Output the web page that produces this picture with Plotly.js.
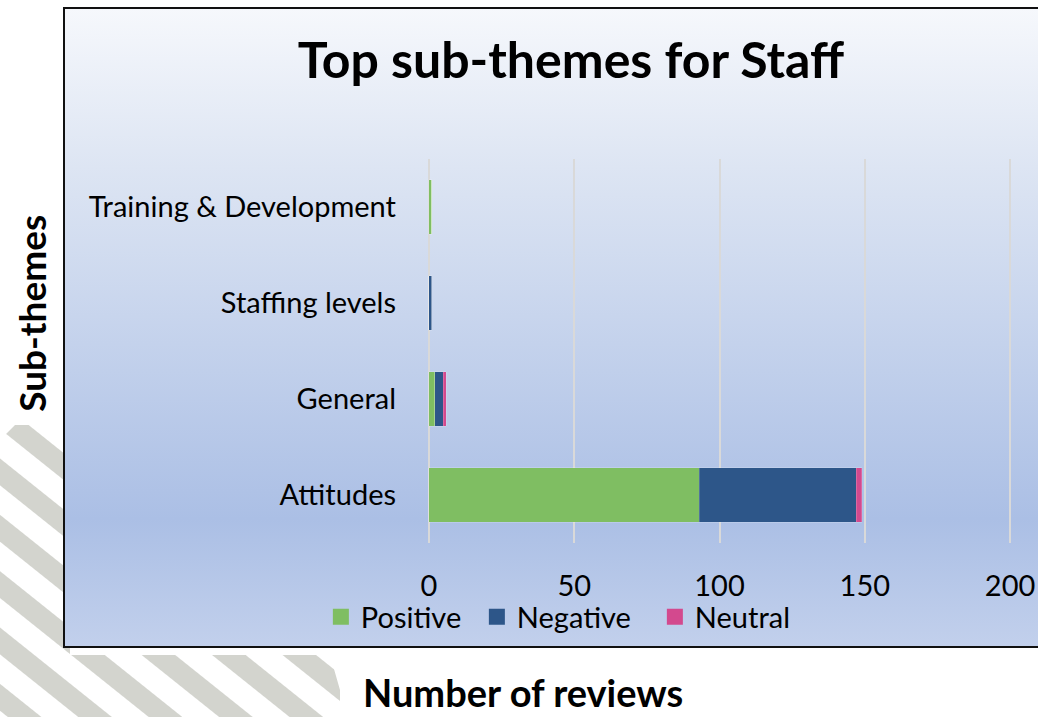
<!DOCTYPE html>
<html>
<head>
<meta charset="utf-8">
<script src="https://cdn.plot.ly/plotly-3.0.1.min.js"></script>
<style>
  html, body { margin: 0; padding: 0; background: #ffffff; }
  #wrap { position: relative; width: 1038px; height: 717px; overflow: hidden; }
  #bg { position: absolute; left: 0; top: 0; }
  #chart { position: absolute; left: 0; top: 0; width: 1038px; height: 717px; }
</style>
</head>
<body>
<div id="wrap">
  <svg id="bg" width="1038" height="717" xmlns="http://www.w3.org/2000/svg">
    <defs>
      <pattern id="stripes" width="44" height="44" patternUnits="userSpaceOnUse" patternTransform="rotate(38.66) translate(0,6)">
        <rect x="0" y="0" width="44" height="21" fill="#d3d4ce"></rect>
      </pattern>
      <clipPath id="stripeClip">
        <polygon points="0,440 15,425 70,425 70,655 330,655 340,690 340,717 0,717"></polygon>
      </clipPath>
      <linearGradient id="boxGrad" x1="0" y1="0" x2="0" y2="1">
        <stop offset="0" stop-color="#f6f8fc"></stop>
        <stop offset="0.25" stop-color="#dde5f3"></stop>
        <stop offset="0.8" stop-color="#abbfe5"></stop>
        <stop offset="1" stop-color="#c2d0ec"></stop>
      </linearGradient>
    </defs>
    <rect x="0" y="400" width="400" height="317" fill="url(#stripes)" clip-path="url(#stripeClip)"></rect>
    <rect x="64" y="8" width="1000" height="639" fill="url(#boxGrad)" stroke="#111111" stroke-width="2"></rect>
  </svg>
  <div id="chart"></div>
</div>
<script>
// Data (bottom to top on the chart)
var categories = ["Attitudes", "General", "Staffing levels", "Training & Development"];
var positive = [93, 2, 0, 1];
var negative = [54, 3, 1, 0];
var neutral  = [2, 1, 0, 0];
var tickValues = [0, 50, 100, 150, 200];
var seriesNames = ["Positive", "Negative", "Neutral"];
var seriesColors = ["#7fbe62", "#2d5689", "#d3498e"];

var FONT = "Lato, 'Noto Sans', sans-serif";
var seriesValues = [positive, negative, neutral];

var traces = seriesValues.map(function (vals, i) {
  return {
    type: "bar",
    orientation: "h",
    name: seriesNames[i],
    y: categories,
    x: vals,
    marker: { color: seriesColors[i], line: { color: "rgba(255,255,255,0.35)", width: 0.5 } },
    showlegend: false,
    hoverinfo: "x+y+name"
  };
});
// legend entries with larger square swatches
var legendWidths = [111, 133, 100];
seriesNames.forEach(function (n, i) {
  traces.push({
    type: "scatter",
    mode: "markers",
    name: n,
    x: [null],
    y: [null],
    marker: { symbol: "square", size: 18, color: seriesColors[i] },
    legendwidth: legendWidths[i],
    showlegend: true,
    hoverinfo: "skip"
  });
});

// x scale: 0 at 429px, 2.905 px per review
var PX0 = 429, PPU = 2.905, XMIN = -1, XMAX = 201;
var mL = PX0 + XMIN * PPU;
var mR = 1038 - (mL + (XMAX - XMIN) * PPU);
var plotW = (XMAX - XMIN) * PPU;

function px2paperX(px) { return (px - mL) / plotW; }
function px2paperY(py) { return (543 - py) / 384; }

var layout = {
  width: 1038,
  height: 717,
  margin: { l: mL, r: mR, t: 159, b: 174, pad: 0 },
  paper_bgcolor: "rgba(0,0,0,0)",
  plot_bgcolor: "rgba(0,0,0,0)",
  barmode: "stack",
  bargap: 0.43,
  font: { family: FONT, color: "#000000" },
  title: {
    text: "<b>Top sub-themes for Staff</b>",
    font: { family: FONT, size: 50, color: "#000000" },
    x: 571 / 1038,
    xanchor: "center",
    y: 1 - 60 / 717,
    yanchor: "middle",
    xref: "container",
    yref: "container"
  },
  xaxis: {
    range: [XMIN, XMAX],
    tickvals: tickValues,
    ticktext: tickValues.map(String),
    showgrid: true,
    gridcolor: "#d9d9d9",
    gridwidth: 2,
    zeroline: false,
    showline: false,
    ticks: "",
    ticklabelstandoff: 23,
    tickfont: { family: FONT, size: 29, color: "#000000" },
    fixedrange: true
  },
  yaxis: {
    type: "category",
    categoryorder: "array",
    categoryarray: categories,
    showgrid: false,
    zeroline: false,
    showline: false,
    ticks: "",
    ticklabelstandoff: 29,
    tickfont: { family: FONT, size: 29, color: "#000000" },
    fixedrange: true
  },
  legend: {
    orientation: "h",
    traceorder: "normal",
    x: px2paperX(321),
    xanchor: "left",
    y: px2paperY(617),
    yanchor: "middle",
    bgcolor: "rgba(0,0,0,0)",
    font: { family: FONT, size: 29, color: "#000000" },
    itemclick: false,
    itemdoubleclick: false
  },
  annotations: [
    {
      text: "<b>Sub-themes</b>",
      xref: "paper", yref: "paper",
      x: px2paperX(31), y: px2paperY(313),
      xanchor: "center", yanchor: "middle",
      textangle: -90,
      showarrow: false,
      font: { family: FONT, size: 37, color: "#000000" }
    },
    {
      text: "<b>Number of reviews</b>",
      xref: "paper", yref: "paper",
      x: px2paperX(523), y: px2paperY(716),
      xanchor: "center", yanchor: "bottom",
      showarrow: false,
      borderpad: 0,
      font: { family: FONT, size: 38, color: "#000000" }
    }
  ]
};

Plotly.newPlot("chart", traces, layout, { displayModeBar: false });
</script>
</body>
</html>
